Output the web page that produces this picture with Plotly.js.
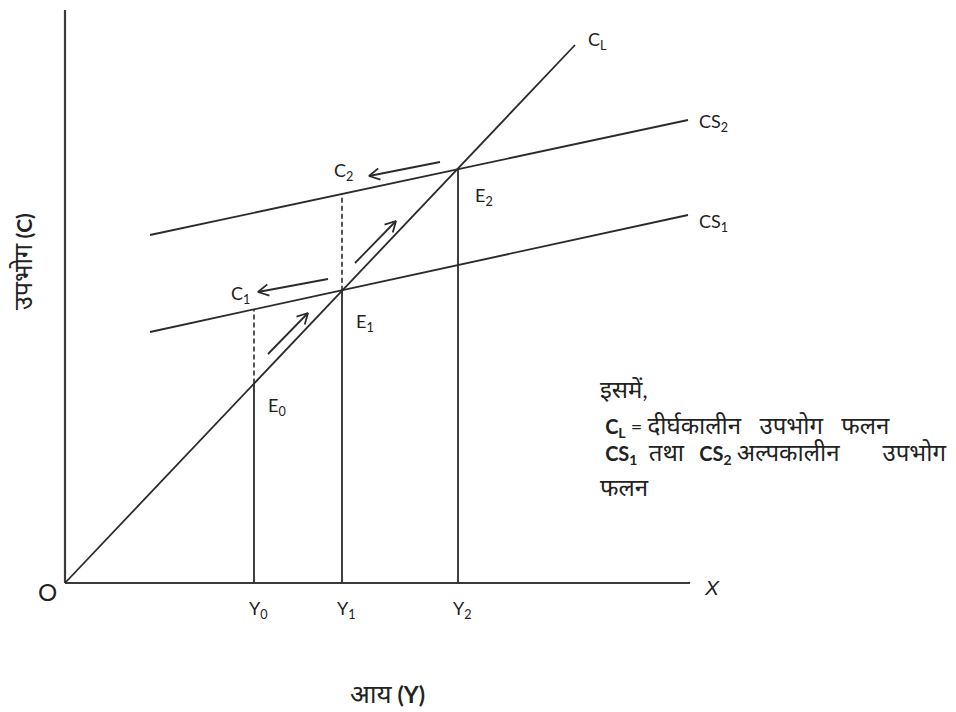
<!DOCTYPE html>
<html>
<head>
<meta charset="utf-8">
<script src="https://cdn.plot.ly/plotly-3.0.1.min.js"></script>
<style>html,body{margin:0;padding:0;background:#fff;}#chart{width:956px;height:712px;}</style>
</head>
<body>
<div id="chart"></div>
<script>
// ---- Data (units: income on x, consumption on y, origin O at 0,0) ----
const axisXEnd = 625;          // end of income axis
const axisYEnd = 573;          // end of consumption axis

// Long-run consumption function C_L
const CL_x = [0, 510];
const CL_y = [0, 538];
// Short-run consumption functions
const CS1_x = [85, 623];
const CS1_y = [251, 368];
const CS2_x = [85, 623];
const CS2_y = [348, 463];

// Income levels
const incomeLabels = ["Y<sub>0</sub>", "Y<sub>1</sub>", "Y<sub>2</sub>"];
const incomeLevels = [189, 277, 393];
// which short-run curve each dashed extension reaches (null = none)
const dashedTo = ["CS1", "CS2", null];

// Arrows: tail -> head
const arrowTailX = [203, 290, 263, 375];
const arrowTailY = [229, 320, 304, 421];
const arrowHeadX = [243, 331, 193, 304];
const arrowHeadY = [270, 362, 291, 407];

// Point labels
const ptLabels = ["C<sub>L</sub>", "CS<sub>2</sub>", "CS<sub>1</sub>", "C<sub>2</sub>", "E<sub>2</sub>", "C<sub>1</sub>", "E<sub>1</sub>", "E<sub>0</sub>"];
const ptLabelX = [521, 632, 632, 267, 408, 164, 289, 201];
const ptLabelY = [543, 461, 361, 412, 387, 289, 261, 177];

// Explanation text (Devanagari parts slightly larger, as in the reference)
function dev(t, sz) { return '<span style="font-size:' + sz + 'px">' + t + '</span>'; }
const noteLines = [
  dev("इसमें,", 24),
  "\u00a0<b>C<sub>L</sub></b> = " + dev("दीर्घकालीन\u00a0\u00a0 उपभोग\u00a0\u00a0 फलन", 24),
  "\u00a0<b>CS<sub>1</sub></b> " + dev("\u00a0तथा", 24) + "\u00a0\u00a0 <b>CS<sub>2</sub></b> " + dev("अल्पकालीन\u00a0\u00a0\u00a0\u00a0\u00a0\u00a0 उपभोग", 24)
];
const noteTail = dev("फलन", 24);
const noteY = [195, 158, 131];
const noteTailY = 113;
const noteX = 533;

const xTitle = dev("आय", 26) + " <b>(Y)</b>";
const yTitle = dev("उपभोग", 25) + " <b>(C)</b>";

// ---- helpers ----
function lineAt(xs, ys, x) {
  return ys[0] + (ys[1] - ys[0]) * (x - xs[0]) / (xs[1] - xs[0]);
}
const curves = {CL: [CL_x, CL_y], CS1: [CS1_x, CS1_y], CS2: [CS2_x, CS2_y]};

const FONT = "Lato, 'Noto Sans', 'Noto Sans Devanagari', sans-serif";
const INK = "#2b2b2b";
const traces = [];
function seg(x, y, opts) {
  traces.push(Object.assign({type: "scatter", mode: "lines", x: x, y: y, hoverinfo: "skip", showlegend: false,
    line: {color: INK, width: 1.8}}, opts || {}));
}

// axes
seg([0, 0], [axisYEnd, 0], {line: {color: "#3a3a3a", width: 2.2}});
seg([0, axisXEnd], [0, 0], {line: {color: "#3a3a3a", width: 2.2}});
// curves
seg(CL_x, CL_y);
seg(CS1_x, CS1_y);
seg(CS2_x, CS2_y);
// verticals
incomeLevels.forEach((xv, i) => {
  const yCL = lineAt(CL_x, CL_y, xv);
  seg([xv, xv], [0, yCL], {line: {color: INK, width: 1.8}});
  if (dashedTo[i]) {
    const c = curves[dashedTo[i]];
    const yTop = lineAt(c[0], c[1], xv);
    seg([xv, xv], [yCL, yTop], {line: {color: INK, width: 1.6, dash: "5px,3px"}});
  }
});
// arrows with open heads
arrowTailX.forEach((tx, i) => {
  const hx = arrowHeadX[i], hy = arrowHeadY[i], ty = arrowTailY[i];
  seg([tx, hx], [ty, hy], {line: {color: INK, width: 1.8}});
  const ang = Math.atan2(ty - hy, tx - hx);
  const L = 12, spread = 0.5;
  const wx1 = hx + L * Math.cos(ang + spread), wy1 = hy + L * Math.sin(ang + spread);
  const wx2 = hx + L * Math.cos(ang - spread), wy2 = hy + L * Math.sin(ang - spread);
  seg([wx1, hx, wx2], [wy1, hy, wy2], {line: {color: INK, width: 1.8}});
});

const annotations = [];
ptLabels.forEach((t, i) => {
  annotations.push({x: ptLabelX[i], y: ptLabelY[i], xref: "x", yref: "y", text: t, showarrow: false,
    xanchor: "left", yanchor: "middle", font: {family: FONT, size: 18, color: "#222"}});
});
incomeLabels.forEach((t, i) => {
  annotations.push({x: incomeLevels[i] + 4, y: -26, xref: "x", yref: "y", text: t, showarrow: false,
    xanchor: "center", yanchor: "middle", font: {family: FONT, size: 18, color: "#222"}});
});
annotations.push({x: -18, y: -8, xref: "x", yref: "y", text: "O", showarrow: false,
  xanchor: "center", yanchor: "middle", font: {family: FONT, size: 24, color: "#222"}});
annotations.push({x: 647, y: -4, xref: "x", yref: "y", text: "<i>X</i>", showarrow: false,
  xanchor: "center", yanchor: "middle", font: {family: "'Liberation Sans', Arial, sans-serif", size: 21, color: "#222"}});
noteLines.forEach((t, i) => {
  annotations.push({x: noteX, y: noteY[i], xref: "x", yref: "y", text: t, showarrow: false,
    xanchor: "left", yanchor: "middle", font: {family: FONT, size: 20, color: "#222"}});
});
annotations.push({x: noteX, y: noteTailY, xref: "x", yref: "y", text: noteTail, showarrow: false,
  xanchor: "left", yanchor: "top", font: {family: FONT, size: 14, color: "#222"}});
annotations.push({x: 322, y: -110, xref: "x", yref: "y", text: xTitle, showarrow: false,
  xanchor: "center", yanchor: "middle", font: {family: FONT, size: 23, color: "#222"}});
annotations.push({x: -43, y: 321, xref: "x", yref: "y", text: yTitle, showarrow: false, textangle: -90,
  xanchor: "center", yanchor: "middle", font: {family: FONT, size: 21, color: "#222"}});

const layout = {
  width: 956, height: 712,
  margin: {l: 0, r: 0, t: 0, b: 0, pad: 0},
  paper_bgcolor: "#fff", plot_bgcolor: "#fff",
  xaxis: {range: [-65, 891], visible: false, fixedrange: true},
  yaxis: {range: [-129, 583], visible: false, fixedrange: true},
  showlegend: false,
  annotations: annotations
};
Plotly.newPlot("chart", traces, layout, {displayModeBar: false, staticPlot: true});
</script>
</body>
</html>
